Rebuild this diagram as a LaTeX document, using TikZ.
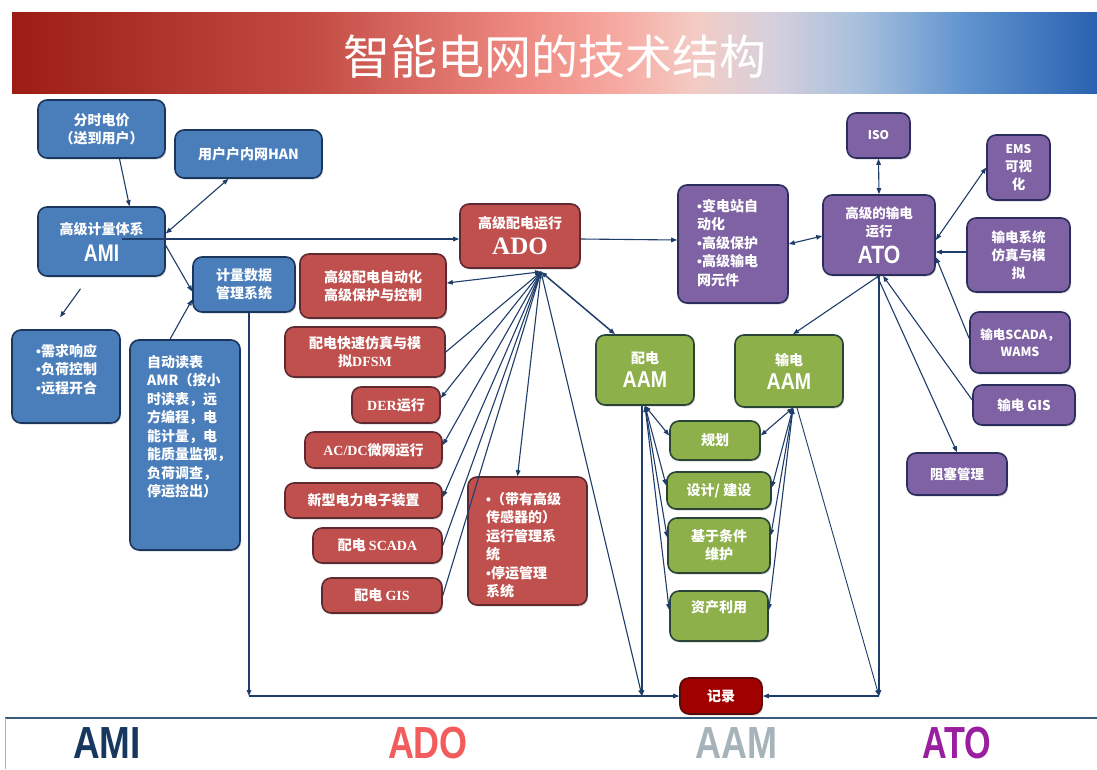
\documentclass[tikz,border=0pt]{standalone}
\usepackage{fontspec}
\usepackage{graphicx}
\usetikzlibrary{arrows.meta,shadows}
\newfontfamily\cjk{Noto Sans CJK SC}
\newfontfamily\lserif{Liberation Serif}
\newfontfamily\lsans{Liberation Sans}
\newcommand\rl[1]{{\lserif\bfseries #1}}
\newcommand\bu{{\lsans\bfseries •}}
\definecolor{amifill}{HTML}{4A7EBB}
\definecolor{amiline}{HTML}{1B365D}
\definecolor{adofill}{HTML}{C0504D}
\definecolor{adoline}{HTML}{5C2A30}
\definecolor{aamfill}{HTML}{8DB04B}
\definecolor{aamline}{HTML}{2A4535}
\definecolor{atofill}{HTML}{7E62A3}
\definecolor{atoline}{HTML}{2B2D5C}
\definecolor{recfill}{HTML}{A00000}
\definecolor{recline}{HTML}{5A0A0A}
\definecolor{lnk}{HTML}{1F3D6B}
\definecolor{sepc}{HTML}{3A5878}
\definecolor{amic}{HTML}{17375E}
\definecolor{adoc}{HTML}{F25C5C}
\definecolor{aamc}{HTML}{A6B3BB}
\definecolor{atoc}{HTML}{9A1FA0}
\definecolor{t1}{HTML}{9C1D13}
\definecolor{t2}{HTML}{C24A42}
\definecolor{t3}{HTML}{EE8A82}
\definecolor{t4}{HTML}{F6AAA2}
\definecolor{t5}{HTML}{F3CCC4}
\definecolor{t6}{HTML}{D6D0DC}
\definecolor{t7}{HTML}{A8C0DC}
\definecolor{t8}{HTML}{5F93CF}
\definecolor{t9}{HTML}{2A62B0}
\pgfdeclarehorizontalshading{titlebar}{100bp}{color(0bp)=(t1); color(25bp)=(t1); color(38.5bp)=(t2); color(48.5bp)=(t3); color(53bp)=(t4); color(56.5bp)=(t5); color(60bp)=(t6); color(64bp)=(t7); color(69bp)=(t8); color(75bp)=(t9); color(100bp)=(t9)}
\tikzset{
  base/.style={draw, rounded corners=9pt, line width=1.6pt, inner sep=0pt, align=center, text=white,
    font=\cjk\bfseries\fontsize{14}{18}\selectfont,
    drop shadow={shadow xshift=1.2pt, shadow yshift=-1.5pt, opacity=0.3}},
  bluebox/.style={base, fill=amifill, draw=amiline},
  redbox/.style={base, fill=adofill, draw=adoline},
  greenbox/.style={base, fill=aamfill, draw=aamline},
  purplebox/.style={base, fill=atofill, draw=atoline, font=\cjk\bfseries\fontsize{13.5}{18}\selectfont},
  sz/.style 2 args={minimum width=#1pt, minimum height=#2pt},
  txt/.style={inner sep=0pt, text=white, align=left, font=\cjk\bfseries\fontsize{14}{18.5}\selectfont},
  conn/.style={draw=lnk, line width=1.1pt, -{Triangle[length=6pt,width=4.5pt]}},
  conn2/.style={draw=lnk, line width=1.1pt, {Triangle[length=6pt,width=4.5pt]}-{Triangle[length=6pt,width=4.5pt]}},
  biglbl/.style={inner sep=0pt, anchor=base, font=\lsans\bfseries\fontsize{45}{45}\selectfont},
}
\begin{document}
\begin{tikzpicture}[x=1pt,y=-1pt]
\useasboundingbox (0,0) rectangle (1097,769);
\fill[white] (0,0) rectangle (1097,769);
% title bar
\shade[shading=titlebar] (12,12) rectangle (1097,93);
\node[font=\cjk\fontsize{47}{47}\selectfont, text=white, inner sep=0pt] (title) at (555,57) {智能电网的技术结构};
% bottom separator
\draw[sepc, line width=1.6pt] (5,718) -- (1097,718);
\draw[gray!60, line width=0.8pt] (5,718) -- (5,769);

% ---------- AMI (blue) ----------
\node[bluebox, sz={127}{58}] (tou) at (101.5,129) {分时电价\\（送到用户）};
\node[bluebox, sz={147}{48}] (han) at (248.5,154) {用户户内网HAN};
\node[bluebox, sz={127}{69}] (ami) at (101.5,241.5) {高级计量体系\\[9pt]{\lsans\bfseries\fontsize{24}{24}\selectfont\scalebox{0.8}[1]{AMI}}};
\node[bluebox, sz={102}{55}] (mdm) at (244,284.5) {计量数据\\管理系统};
\node[bluebox, sz={108}{93}] (dr) at (66,376.5) {};
\node[txt, anchor=north west] (drt) at (36,344) {\bu 需求响应\\\bu 负荷控制\\\bu 远程开合};
\node[bluebox, sz={110}{210}] (amr) at (185,445) {};
\node[txt, anchor=north west] (amrt) at (147,355) {自动读表\\AMR（按小\\时读表，远\\方编程，电\\能计量，电\\能质量监视，\\负荷调查，\\停运捡出）};

% ---------- ADO (red) ----------
\node[redbox, sz={120}{64}] (ado) at (520,236) {高级配电运行\\[7pt]{\lserif\bfseries\fontsize{25}{25}\selectfont ADO}};
\node[redbox, sz={146}{64}] (dac) at (373,286) {高级配电自动化\\高级保护与控制};
\node[redbox, sz={160}{50}] (dfsm) at (365,352) {配电快速仿真与模\\拟\rl{DFSM}};
\node[redbox, sz={88}{36}] (der) at (396,405) {\rl{DER}运行};
\node[redbox, sz={137}{36}] (acdc) at (373.5,450) {\rl{AC/DC}微网运行};
\node[redbox, sz={157}{35}] (pe) at (363.5,500.5) {新型电力电子装置};
\node[redbox, sz={129}{35}] (scada) at (377.5,545.5) {配电 \rl{SCADA}};
\node[redbox, sz={120}{35}] (gis) at (382,595.5) {配电 \rl{GIS}};
\node[redbox, sz={119}{128}] (ops) at (527.5,541) {};
\node[txt, anchor=north west] (opst) at (486,492) {\bu （带有高级\\传感器的）\\运行管理系\\统\\\bu 停运管理\\系统};

% ---------- AAM (green) ----------
\node[greenbox, sz={98}{70}] (daam) at (645,370) {配电\\[6pt]{\lsans\fontsize{23}{23}\selectfont\scalebox{0.85}[1]{AAM}}};
\node[greenbox, sz={108}{72}] (taam) at (789,371) {输电\\[6pt]{\lsans\fontsize{23}{23}\selectfont\scalebox{0.85}[1]{AAM}}};
\node[greenbox, sz={90}{39}] (plan) at (715,440.5) {规划};
\node[greenbox, sz={104}{37}] (design) at (719,490.5) {设计/ 建设};
\node[greenbox, sz={102}{55}] (cbm) at (719,545.5) {基于条件\\维护};
\node[greenbox, sz={98}{50}] (util) at (719,616) {};
\node[txt] (utilt) at (719,607) {资产利用};

% ---------- ATO (purple) ----------
\node[purplebox, sz={110}{118}] (sub) at (733,244) {};
\node[txt, anchor=north west] (subt) at (697,199) {\bu 变电站自\\动化\\\bu 高级保护\\\bu 高级输电\\网元件};
\node[purplebox, sz={112}{80}] (ato) at (879,235) {高级的输电\\运行\\[7pt]{\lsans\fontsize{25}{25}\selectfont\scalebox{0.85}[1]{ATO}}};
\node[purplebox, sz={63}{45}, font=\cjk\bfseries\fontsize{12}{12}\selectfont] (iso) at (878.5,135.5) {ISO};
\node[purplebox, sz={63}{65}] (ems) at (1018.5,167.5) {{\fontsize{12}{12}\selectfont EMS}\\可视\\化};
\node[purplebox, sz={103}{74}] (tsim) at (1018.5,255) {输电系统\\仿真与模\\拟};
\node[purplebox, sz={100}{61}, font=\cjk\bfseries\fontsize{12.5}{17}\selectfont] (tscada) at (1020,342.5) {输电SCADA，\\WAMS};
\node[purplebox, sz={102}{40}] (tgis) at (1024,405) {输电 GIS};
\node[purplebox, sz={100}{42}] (cong) at (957,474) {阻塞管理};

% record
\node[base, fill=recfill, draw=recline, sz={82}{36}] (rec) at (721,696) {记录};

% junctions
\coordinate (jA) at (249,696);
\coordinate (jB) at (642,696);
\coordinate (jC) at (879,696);
\coordinate (adohub) at ([xshift=21pt,yshift=-3pt]ado.south);

% ---------- connectors ----------
% AMI side
\draw[conn] ([xshift=18pt]tou.south) -- ([xshift=28pt]ami.north);
\draw[conn2] ([yshift=8pt]ami.east) -- ([xshift=-20pt]han.south);
\draw[conn] ([yshift=-4pt]ami.east) -- ([yshift=-7pt]mdm.west);
\draw[conn] ([xshift=-15pt]amr.north) -- ([yshift=-15pt]mdm.west);
\draw[conn] ([xshift=-21pt,yshift=-12pt]ami.south) -- ([xshift=-6pt,yshift=12pt]dr.north);
\draw[conn] ([xshift=20pt,yshift=2.5pt]ami.center) -- ([yshift=-3pt]ado.west);
\draw[conn] ([xshift=5pt]mdm.south) -- (jA);
\draw[conn] (jA) -- (rec.west);

% ADO fan
\draw[conn2] (adohub) -- ([yshift=3pt]dac.east);
\draw[conn] (dfsm.east) -- (adohub);
\draw[conn] (adohub) -- ([yshift=7pt]der.east);
\draw[conn] (adohub) -- ([yshift=5pt]acdc.east);
\draw[conn] (adohub) -- ([yshift=3.5pt]pe.east);
\draw[conn] (scada.east) -- (adohub);
\draw[conn] (gis.east) -- (adohub);
\draw[conn] (adohub) -- ([xshift=-10pt]ops.north);
\draw[conn2, line width=1.5pt] (adohub) -- ([xshift=-30pt]daam.north);
\draw[conn] (adohub) -- (jB);
\draw[conn] ([yshift=-3pt]ado.east) -- ([yshift=4pt]sub.west);

% AAM fans
\draw[conn2] (daam.south) -- ([yshift=5pt]plan.west);
\draw[conn2] (daam.south) -- ([yshift=5pt]design.west);
\draw[conn2] (daam.south) -- ([yshift=8pt]cbm.west);
\draw[conn2] (daam.south) -- ([yshift=6pt]util.west);
\draw[conn2] ([xshift=4pt]taam.south) -- ([yshift=5pt]plan.east);
\draw[conn2] ([xshift=4pt]taam.south) -- ([yshift=3pt]design.east);
\draw[conn2] ([xshift=4pt]taam.south) -- ([yshift=10pt]cbm.east);
\draw[conn2] ([xshift=4pt]taam.south) -- ([yshift=6pt]util.east);
\draw[conn] ([xshift=-3pt]daam.south) -- (jB);
\draw[conn, line width=0.9pt] ([xshift=8pt]taam.south) -- (jC);

% ATO side
\draw[conn2] (sub.east) -- ([yshift=-1pt]ato.west);
\draw[conn2] (iso.south) -- (ato.north);
\draw[conn2] ([yshift=-5pt]ato.east) -- (ems.west);
\draw[conn] ([yshift=3pt]tsim.west) -- ([yshift=-17pt]ato.east);
\draw[conn] ([yshift=4pt]tscada.west) -- ([yshift=-22pt]ato.east);
\draw[conn] ([yshift=5pt]tgis.west) -- ([xshift=4pt]ato.south);
\draw[conn] ([xshift=-2pt]ato.south) -- (cong.north);
\draw[conn] (ato.south) -- ([xshift=4pt]taam.north);
\draw[conn] (ato.south) -- (jC);
\draw[conn] (jC) -- (rec.east);

% bottom labels
\node[biglbl, text=amic] (lami) at (107,758) {\scalebox{0.82}[1]{AMI}};
\node[biglbl, text=adoc] (lado) at (428,758) {\scalebox{0.8}[1]{ADO}};
\node[biglbl, text=aamc] (laam) at (736,758) {\scalebox{0.8}[1]{AAM}};
\node[biglbl, text=atoc] (lato) at (957,758) {\scalebox{0.76}[1]{ATO}};
\end{tikzpicture}
\end{document}
